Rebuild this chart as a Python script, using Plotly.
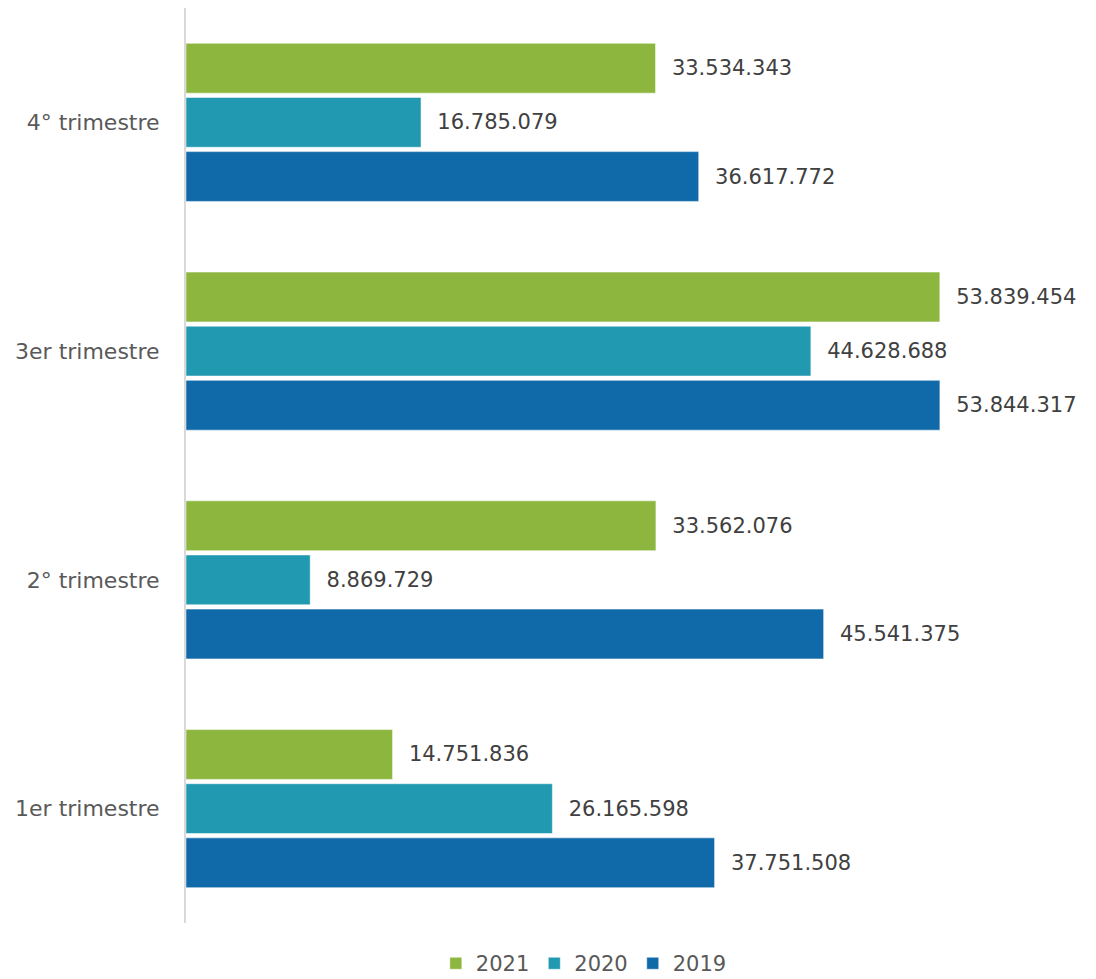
import plotly.graph_objects as go

categories = ["1er trimestre", "2° trimestre", "3er trimestre", "4° trimestre"]
v2021 = [14751836, 33562076, 53839454, 33534343]
v2020 = [26165598, 8869729, 44628688, 16785079]
v2019 = [37751508, 45541375, 53844317, 36617772]
series = [("2019", v2019, "#1069A9"), ("2020", v2020, "#2199B0"), ("2021", v2021, "#8DB63F")]

FONT = "DejaVu Sans"

def fmt(v):
    return "\u00a0\u00a0" + f"{v:,}".replace(",", ".")

fig = go.Figure()
for name, vals, col in series:
    fig.add_trace(go.Bar(
        y=categories, x=vals, name=name, orientation="h",
        marker=dict(color=col, line=dict(color="white", width=0.5)),
        text=[fmt(v) for v in vals], textposition="outside",
        textfont=dict(family=FONT, size=21, color="#404040"),
        cliponaxis=False,
    ))

fig.update_layout(
    width=1096, height=979,
    margin=dict(l=178, r=24, t=0, b=64, autoexpand=False),
    barmode="group", bargap=0.29, bargroupgap=0.08,
    plot_bgcolor="white", paper_bgcolor="white",
    font=dict(family=FONT, size=21, color="#595959"),
    showlegend=True,
    legend=dict(orientation="h", x=0.445, xanchor="center", y=-0.022, yanchor="top",
                traceorder="reversed", font=dict(family=FONT, size=21, color="#595959"),
                itemwidth=30, tracegroupgap=0),
    xaxis=dict(range=[0, 63.85e6], showgrid=False, showticklabels=False, zeroline=False,
               showline=False, automargin=False),
    yaxis=dict(showgrid=False, showline=True, linecolor="#D9D9D9", linewidth=2,
               ticks="outside", ticklen=20, tickcolor="rgba(0,0,0,0)", automargin=False,
               tickfont=dict(family=FONT, size=22, color="#595959")),
)
fig.write_html("out.html")
